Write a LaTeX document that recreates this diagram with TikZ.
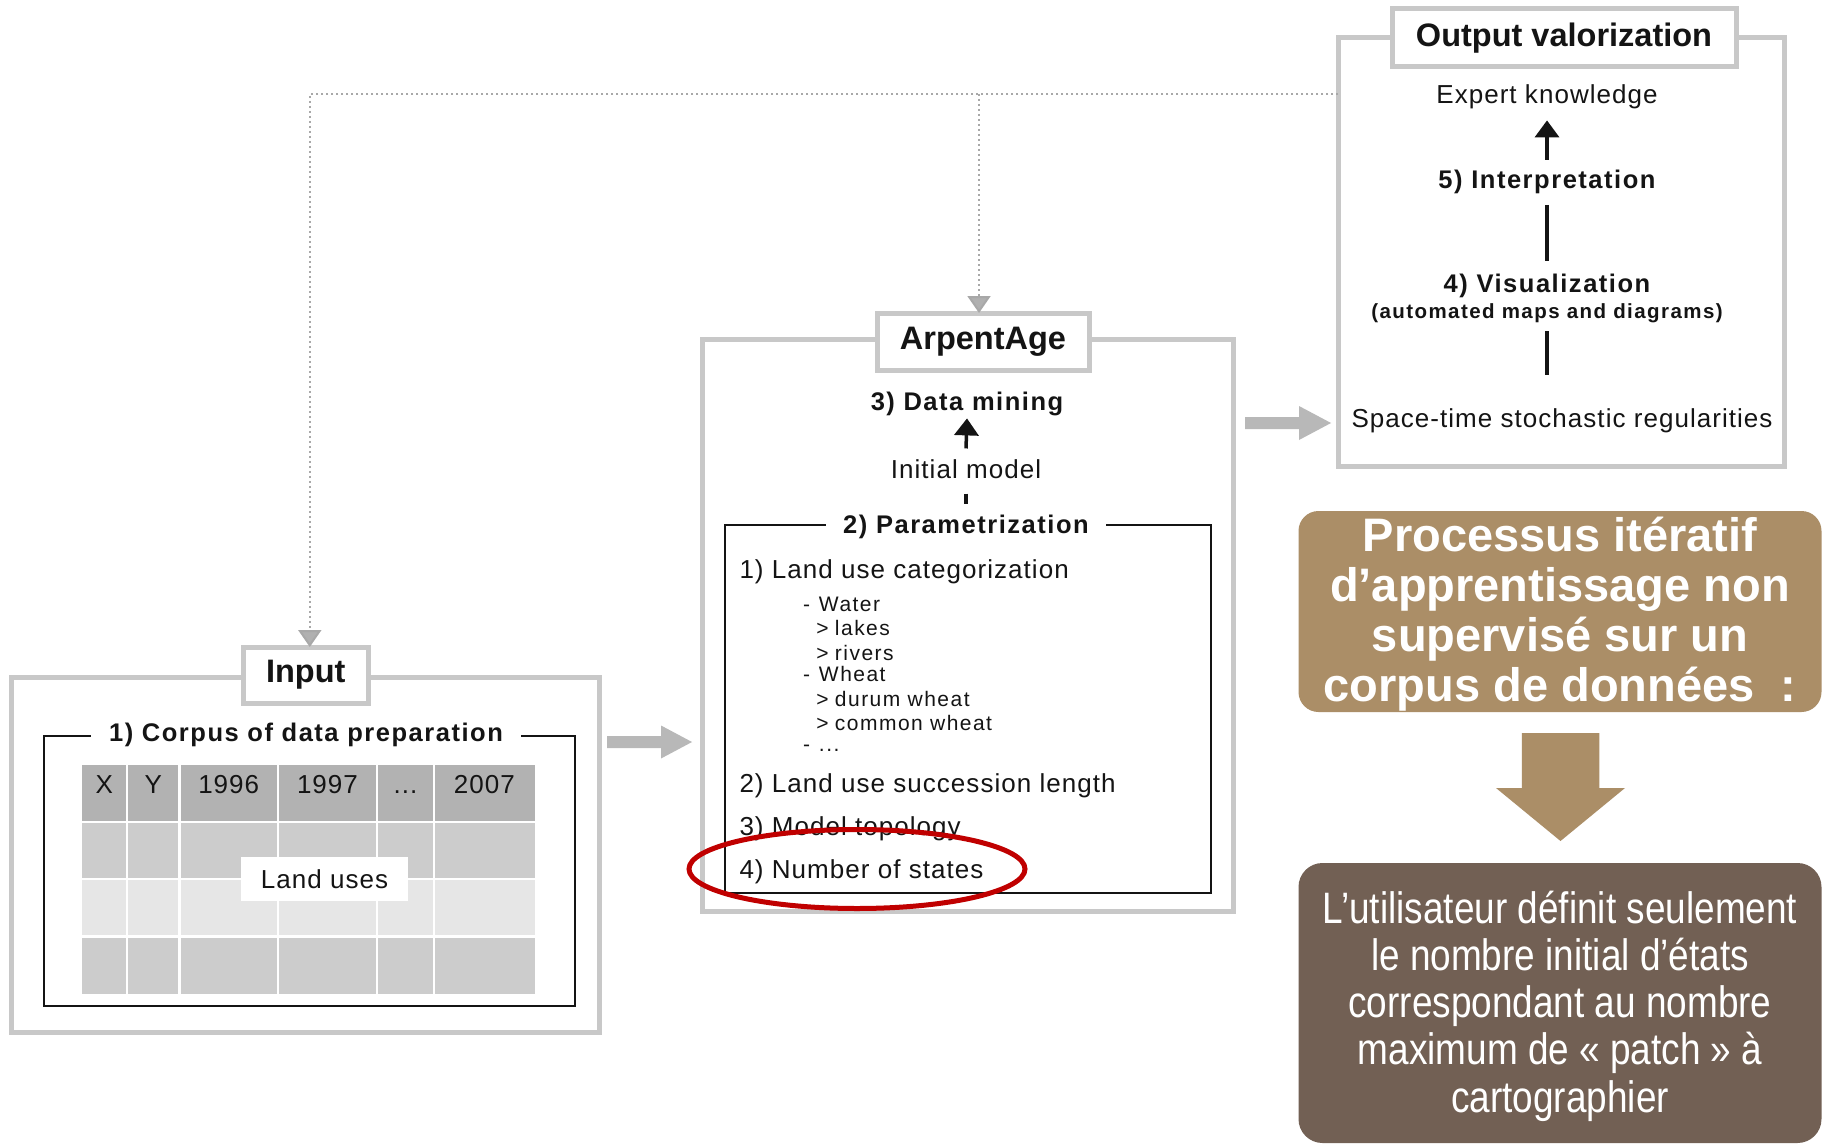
\documentclass[tikz,border=0pt]{standalone}
\usepackage{fontspec}
\setmainfont{Liberation Sans}
\newfontfamily\narrowfont[FakeStretch=0.84]{Liberation Sans}
\usetikzlibrary{arrows.meta,shapes.geometric}
\definecolor{boxgray}{HTML}{C8C8C8}
\definecolor{dotgray}{HTML}{A8A8A8}
\definecolor{tipgray}{HTML}{B0B0B0}
\definecolor{blockgray}{HTML}{B8B8B8}
\definecolor{hdrgray}{HTML}{B2B2B2}
\definecolor{midgray}{HTML}{CCCCCC}
\definecolor{palegray}{HTML}{E6E6E6}
\definecolor{proctan}{HTML}{AB8E67}
\definecolor{darkbrown}{HTML}{726054}
\definecolor{redring}{HTML}{C00000}
\definecolor{ink}{HTML}{141414}
\newcommand\ftitle{\fontsize{32.5}{38}\selectfont\bfseries}
\newcommand\fsub{\fontsize{25.5}{30}\selectfont\bfseries\addfontfeatures{LetterSpace=6}}
\newcommand\fsubsmall{\fontsize{20.5}{24}\selectfont\bfseries\addfontfeatures{LetterSpace=7}}
\newcommand\freg{\fontsize{26}{30}\selectfont\addfontfeatures{LetterSpace=4}}
\newcommand\fitem{\fontsize{21}{24}\selectfont\addfontfeatures{LetterSpace=7}}
\newcommand\fproc{\fontsize{47}{50}\selectfont\bfseries}
\newcommand\fdark{\narrowfont\fontsize{44}{47.2}\selectfont}
\begin{document}
\begin{tikzpicture}[x=1pt,y=-1pt,
  outerbox/.style={draw=boxgray, line width=5pt, inner sep=0pt, outer sep=0pt},
  labelbox/.style={draw=boxgray, line width=5pt, fill=white, inner sep=0pt, outer sep=0pt, font=\ftitle, text=ink},
  innerbox/.style={draw=ink, line width=2pt, inner sep=0pt, outer sep=0pt},
  sub/.style={font=\fsub, text=ink, inner sep=0pt, outer sep=0pt, anchor=base},
  subsmall/.style={font=\fsubsmall, text=ink, inner sep=0pt, outer sep=0pt, anchor=base},
  reg/.style={font=\freg, text=ink, inner sep=0pt, outer sep=0pt, anchor=base},
  item/.style={font=\fitem, text=ink, inner sep=0pt, outer sep=0pt, anchor=base west},
  feedback/.style={draw=dotgray, line width=2pt, dash pattern=on 2pt off 3pt, -{Triangle[width=23pt,length=17pt,fill=tipgray]}},
  blackarr/.style={draw=ink, line width=3.5pt, -{Triangle[width=24pt,length=17pt]}},
  plainline/.style={draw=ink, line width=3.5pt},
  brownbox/.style={inner sep=0pt, outer sep=0pt, align=center, text=white}
]
\fill[white] (0,0) rectangle (1826,1145);
\useasboundingbox (0,0) rectangle (1826,1145);

% outer boxes
\node[outerbox, minimum width=588, minimum height=355] (inbox) at (305.8,854.5) {};
\node[outerbox, minimum width=531, minimum height=572] (arpbox) at (967.5,625.6) {};
\node[outerbox, minimum width=446, minimum height=428] (outbox) at (1561,252) {};

% inner boxes
\node[innerbox, minimum width=531, minimum height=270.5] (corpusbox) at (309.4,870.75) {};
\node[innerbox, minimum width=486, minimum height=367.7] (parambox) at (968,708.85) {};

% title labels
\node[labelbox, minimum width=124.5, minimum height=56] (inlabel) at (305.8,675) {Input};
\node[labelbox, minimum width=212, minimum height=57] (arplabel) at (983,341.5) {ArpentAge};
\node[labelbox, minimum width=344, minimum height=58] (outlabel) at (1564,38) {Output valorization};

% feedback dotted connectors
\coordinate (fbrow) at (0,94);
\draw[feedback] (outbox.west |- fbrow) -| ([xshift=4pt]inlabel.north);
\draw[feedback] ([xshift=-4pt]arplabel.north |- fbrow) -- ([xshift=-4pt]arplabel.north);

% table
\fill[hdrgray] (81.5,765) rectangle (534.7,822);
\fill[midgray] (81.5,822) rectangle (534.7,879);
\fill[palegray] (81.5,879) rectangle (534.7,936.5);
\fill[midgray] (81.5,936.5) rectangle (534.7,993.5);
\foreach \cx in {127,179.5,278,377,434} {\draw[white, line width=2.5pt] (\cx,765) -- (\cx,993.5);}
\foreach \ry in {822,879,936.5} {\draw[white, line width=2.5pt] (81.5,\ry) -- (534.7,\ry);}
\node[reg] (hx) at (104.25,793) {X};
\node[reg] (hy) at (153.25,793) {Y};
\node[reg] (h96) at (228.75,793) {1996};
\node[reg] (h97) at (327.5,793) {1997};
\node[reg] (hdots) at (405.5,793) {...};
\node[reg] (h07) at (484.35,793) {2007};
\node[fill=white, minimum width=167, minimum height=44, inner sep=0pt, font=\freg, text=ink] (landuses) at (324.5,879) {Land uses};
\node[sub, fill=white, inner xsep=18pt] (corpustitle) at (306,741) {1) Corpus of data preparation};

% ArpentAge content
\node[sub] (mining) at (967,410) {3) Data mining};
\node[reg] (initmodel) at (966,478.3) {Initial model};
\node[sub, fill=white, inner xsep=17pt] (paramtitle) at (966,533.3) {2) Parametrization};
\draw[blackarr] ([yshift=11pt]initmodel.north) -- ([yshift=-3pt]mining.south);
\draw[plainline] ([yshift=-15pt]initmodel.south) -- ([yshift=11pt]paramtitle.north);
\node[reg, anchor=base west] (p1) at (739.5,578.3) {1) Land use categorization};
\node[item] (iwater) at (803,611.7) {\makebox[16pt][l]{-}Water};
\node[item] (ilakes) at (816.4,635) {\makebox[18.6pt][l]{>}lakes};
\node[item] (irivers) at (816.4,660) {\makebox[18.6pt][l]{>}rivers};
\node[item] (iwheat) at (803,681.7) {\makebox[16pt][l]{-}Wheat};
\node[item] (idurum) at (816.4,706.7) {\makebox[18.6pt][l]{>}durum wheat};
\node[item] (icommon) at (816.4,730) {\makebox[18.6pt][l]{>}common wheat};
\node[item] (idots) at (803,751.7) {\makebox[16pt][l]{-}...};
\node[reg, anchor=base west] (p2) at (739.5,792.7) {2) Land use succession length};
\node[reg, anchor=base west] (p3) at (739.5,835) {3) Model topology};
\node[reg, anchor=base west] (p4) at (739.5,878.3) {4) Number of states};
\node[draw=redring, line width=5pt, ellipse, minimum width=336, minimum height=79, inner sep=0pt] (ring) at (857,869) {};

% Output valorization content
\node[reg] (expert) at (1547,104) {Expert knowledge};
\node[sub] (interp) at (1547,189) {5) Interpretation};
\node[sub] (vis) at (1547,292) {4) Visualization};
\node[subsmall] (vissub) at (1547,318) {(automated maps and diagrams)};
\node[reg] (spacetime) at (1562,427.5) {Space-time stochastic regularities};
\draw[blackarr] ([yshift=11pt]interp.north) -- ([yshift=-11pt]expert.south);
\draw[plainline] ([yshift=-10.6pt]interp.south) -- ([yshift=12.4pt]vis.north);
\draw[plainline] ([yshift=-8.7pt]vissub.south) -- ++(0,43.5);

% block arrows
\fill[blockgray] (607,736) -- (661,736) -- (661,725.5) -- (692,742) -- (661,758.5) -- (661,748) -- (607,748) -- cycle;
\fill[blockgray] (1245,417) -- (1299,417) -- (1299,406) -- (1331,423) -- (1299,440) -- (1299,429) -- (1245,429) -- cycle;

% French boxes
\node[brownbox, fill=proctan, rounded corners=20pt, minimum width=523, minimum height=201] (proc) at (1560,611.5) {};
\node[brownbox, font=\fproc] (proctext) at (1560,614.5) {Processus itératif\\d’apprentissage non\\supervisé sur un\\corpus de données\ \ :};
\node[brownbox, fill=darkbrown, rounded corners=24pt, minimum width=523, minimum height=280] (userbox) at (1560,1003) {};
\node[brownbox, font=\fdark] (usertext) at (1560,1006) {L’utilisateur définit seulement\\le nombre initial d’états\\correspondant au nombre\\maximum de « patch » à\\cartographier};
\fill[proctan] (1521.8,733) -- (1599.4,733) -- (1599.4,788) -- (1625,788) -- (1560.5,841) -- (1496,788) -- (1521.8,788) -- cycle;
\end{tikzpicture}
\end{document}
